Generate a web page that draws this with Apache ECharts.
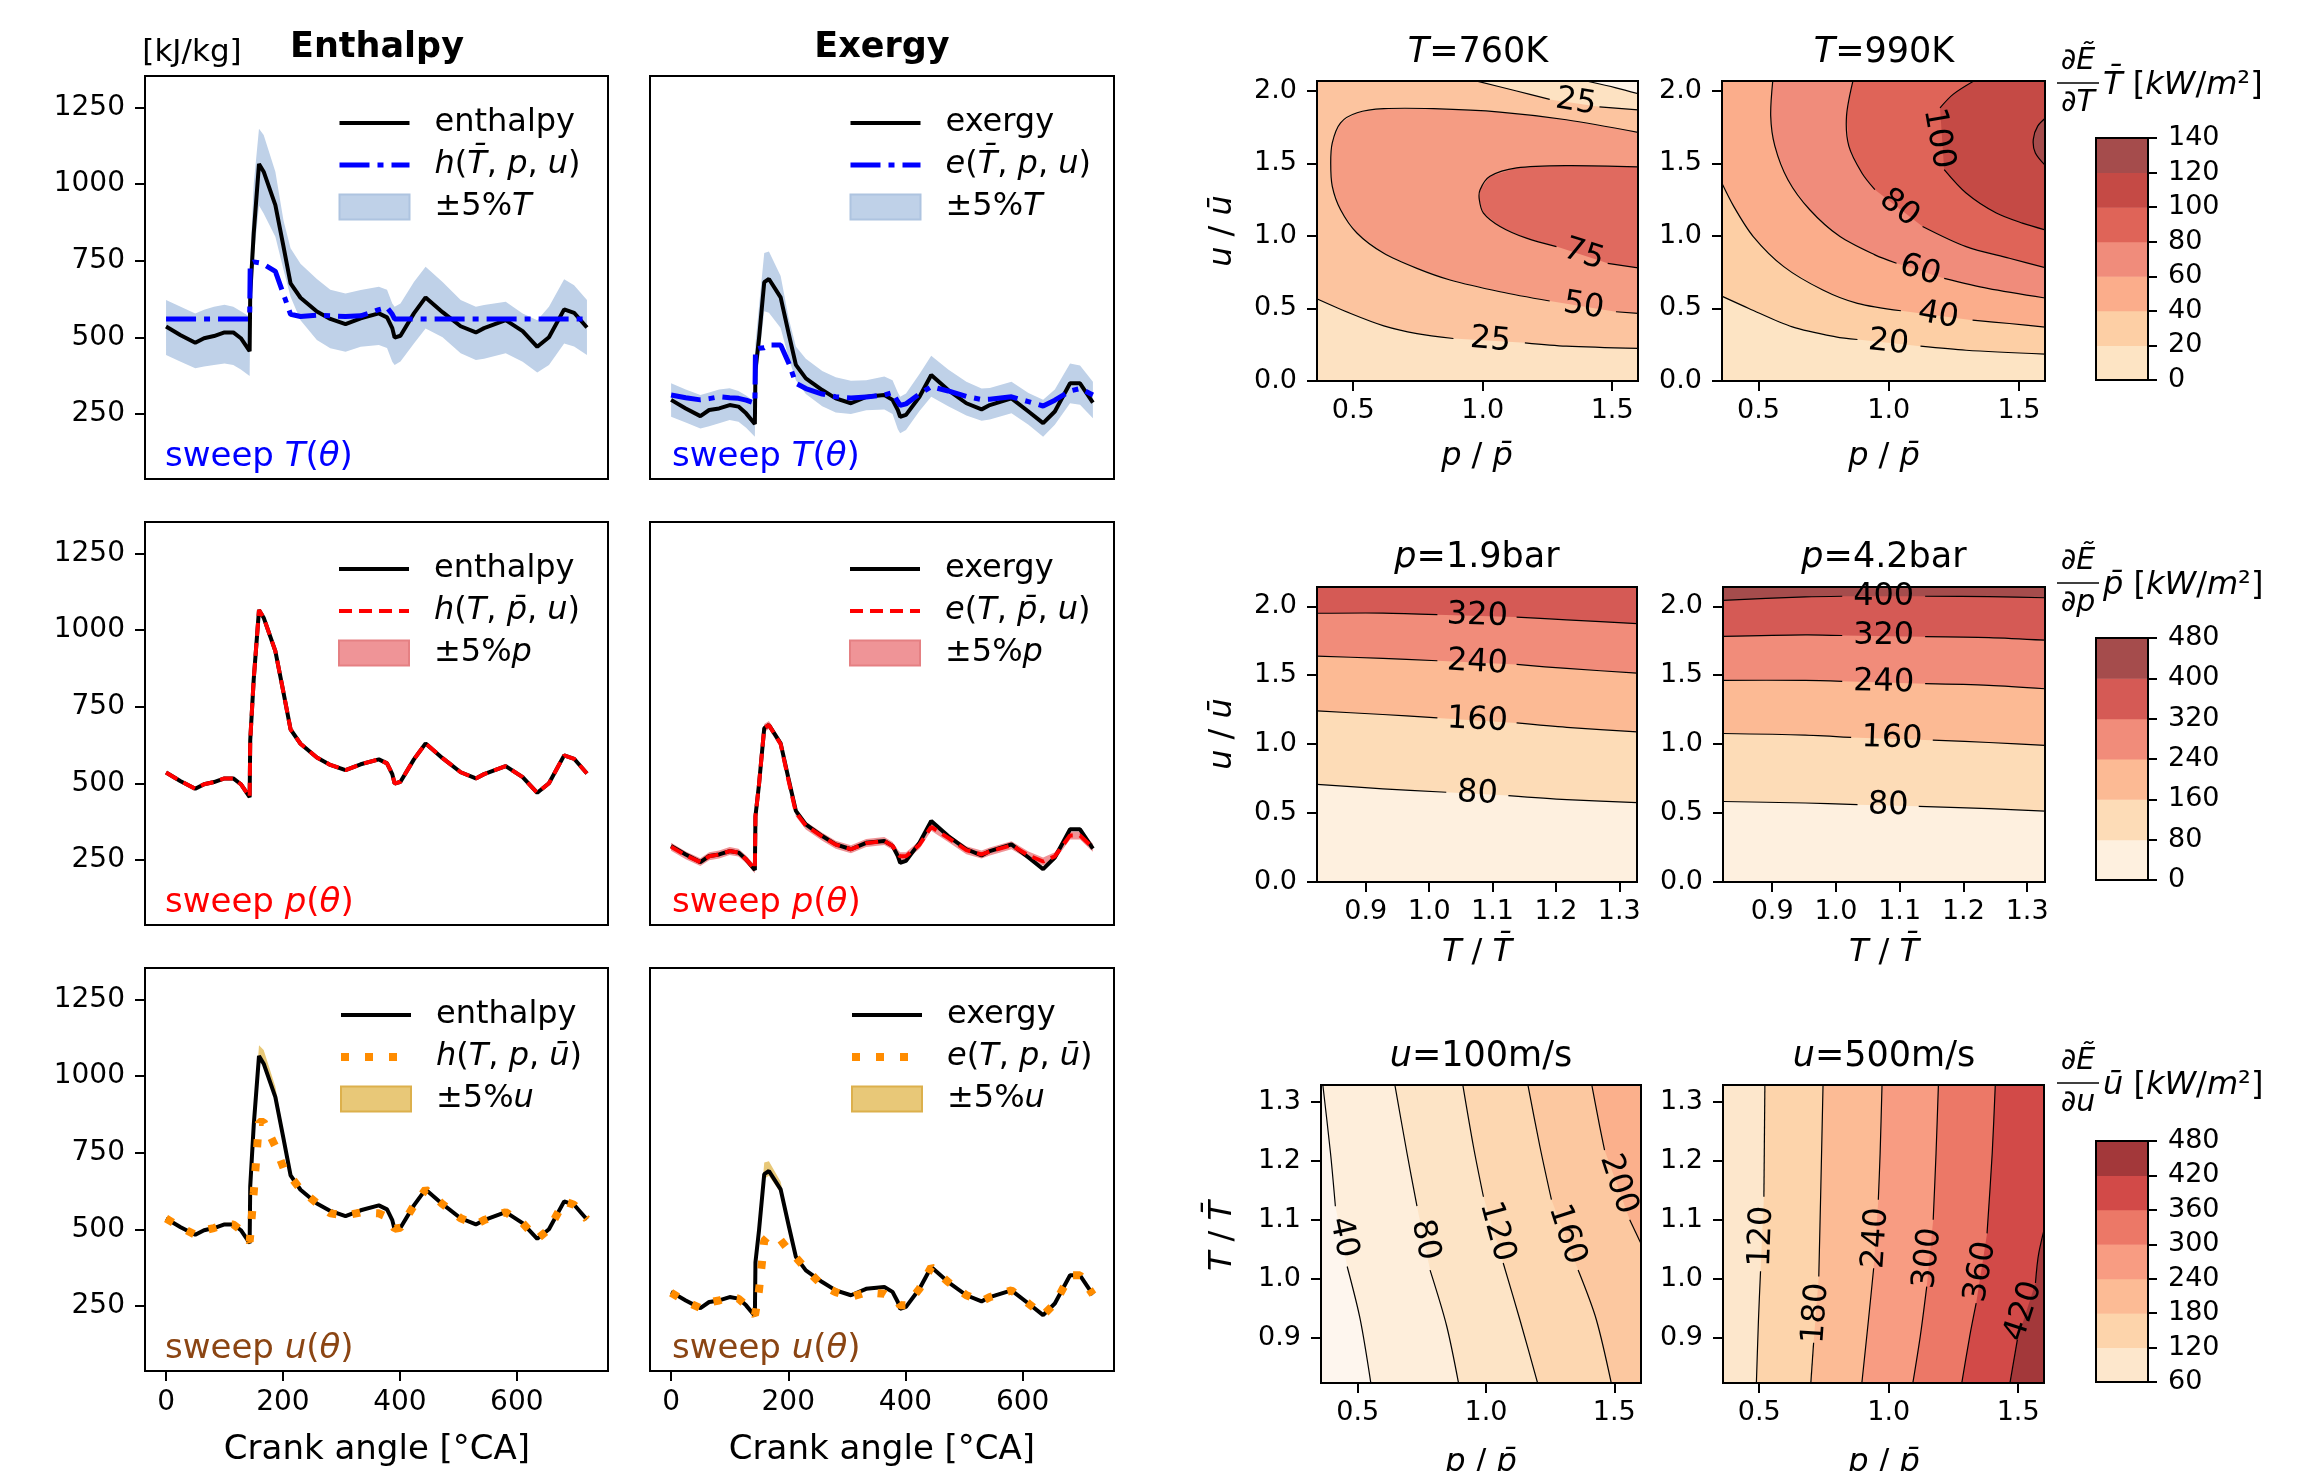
<!DOCTYPE html>
<html>
<head>
<meta charset="utf-8">
<script src="https://cdn.jsdelivr.net/npm/echarts@6/dist/echarts.min.js"></script>
<style>
html, body { margin: 0; background: #fff; }
#main { width: 2318px; height: 1471px; }
</style>
</head>
<body>
<div id="main"></div>
<script>
var FONT = 'DejaVu Sans';

// ---------- crank angle panels ----------
var theta = [0, 25, 50, 65, 82, 100, 115, 128, 143, 144, 150, 159, 167, 187, 201, 213, 230, 258, 281, 307, 333, 364, 378, 387, 391, 401, 424, 444, 473, 504, 530, 544, 581, 610, 635, 655, 681, 698, 720];

var enthalpy = [535, 507, 482, 497, 504, 516, 516, 497, 455, 640, 840, 1065, 1040, 931, 795, 676, 629, 584, 560, 543, 562, 578, 565, 530, 499, 505, 578, 630, 582, 536, 516, 530, 556, 520, 469, 500, 591, 580, 532];
var exergy = [296, 268, 243, 263, 268, 279, 274, 252, 217, 393, 495, 680, 690, 630, 510, 410, 366, 328, 301, 285, 306, 312, 296, 263, 241, 247, 306, 377, 328, 285, 265, 279, 301, 258, 220, 258, 350, 350, 287];

// sweep T
var hT = [560, 560, 560, 560, 560, 560, 560, 560, 560, 740, 746, 743, 738, 715, 640, 575, 568, 572, 570, 568, 570, 590, 597, 575, 560, 560, 560, 560, 560, 560, 560, 560, 560, 560, 560, 560, 560, 560, 560];
var hTup = [622, 600, 578, 590, 600, 606, 600, 585, 567, 750, 1000, 1180, 1160, 1040, 880, 790, 740, 690, 655, 643, 654, 665, 655, 610, 600, 610, 680, 730, 680, 622, 600, 605, 616, 578, 556, 600, 689, 670, 622];
var hTlo = [442, 420, 399, 405, 410, 415, 410, 395, 374, 560, 760, 930, 904, 828, 720, 632, 556, 491, 464, 453, 469, 475, 465, 420, 410, 421, 480, 529, 500, 448, 426, 430, 448, 420, 385, 410, 480, 470, 442];
var eT = [312, 303, 296, 300, 306, 303, 301, 295, 285, 460, 464, 466, 475, 475, 415, 350, 333, 315, 306, 302, 305, 312, 320, 290, 278, 283, 315, 339, 325, 307, 297, 298, 306, 290, 276, 295, 325, 333, 312];
var eTup = [350, 330, 312, 320, 330, 334, 325, 310, 290, 480, 600, 775, 780, 700, 560, 470, 430, 390, 370, 358, 360, 372, 360, 320, 306, 317, 380, 440, 395, 355, 333, 335, 355, 318, 296, 330, 415, 408, 355];
var eTlo = [241, 222, 203, 210, 220, 230, 225, 205, 176, 320, 430, 585, 580, 530, 430, 360, 315, 275, 255, 250, 262, 265, 250, 200, 187, 198, 260, 306, 275, 245, 228, 232, 252, 215, 176, 215, 285, 280, 236];

// sweep p
var hP = [535, 507, 482, 497, 504, 516, 516, 497, 455, 640, 840, 1065, 1040, 931, 795, 676, 629, 584, 560, 543, 562, 578, 565, 530, 499, 505, 578, 630, 582, 536, 516, 530, 556, 520, 469, 500, 591, 580, 532];
var eP = [293, 265, 243, 262, 268, 279, 274, 252, 220, 393, 495, 680, 690, 628, 505, 405, 362, 326, 300, 285, 305, 312, 296, 270, 262, 262, 300, 358, 322, 282, 268, 278, 298, 265, 245, 262, 330, 330, 290];
var ePup = [306, 278, 256, 275, 281, 292, 287, 265, 233, 406, 508, 693, 703, 641, 518, 418, 375, 339, 313, 298, 318, 325, 309, 283, 275, 275, 313, 371, 335, 295, 281, 291, 311, 278, 258, 275, 343, 343, 303];
var ePlo = [280, 252, 230, 249, 255, 266, 261, 239, 207, 380, 482, 667, 677, 615, 492, 392, 349, 313, 287, 272, 292, 299, 283, 257, 249, 249, 287, 345, 309, 269, 255, 265, 285, 252, 232, 249, 317, 317, 277];

// sweep u
var hU = [535, 507, 482, 497, 504, 516, 516, 497, 460, 480, 620, 850, 850, 770, 700, 672, 630, 585, 552, 545, 555, 552, 540, 515, 502, 505, 578, 630, 582, 536, 516, 530, 556, 520, 469, 500, 591, 580, 532];
var hUup = [540, 512, 487, 502, 509, 521, 521, 502, 460, 648, 860, 1100, 1085, 965, 815, 685, 634, 589, 565, 548, 567, 583, 570, 535, 504, 510, 583, 635, 587, 541, 521, 535, 561, 525, 474, 505, 596, 585, 537];
var hUlo = [530, 502, 477, 492, 499, 511, 511, 492, 450, 632, 820, 1058, 1032, 922, 785, 668, 624, 579, 555, 538, 557, 573, 560, 525, 494, 500, 573, 625, 577, 531, 511, 525, 551, 515, 464, 495, 586, 575, 527];
var eU = [293, 265, 243, 262, 268, 279, 274, 252, 220, 228, 300, 463, 480, 465, 431, 408, 371, 317, 295, 279, 295, 290, 274, 263, 252, 252, 306, 377, 328, 285, 265, 279, 301, 258, 220, 258, 350, 350, 287];
var eUup = [301, 273, 248, 268, 273, 284, 279, 257, 222, 400, 515, 718, 722, 655, 525, 418, 371, 333, 306, 290, 311, 317, 301, 268, 246, 252, 311, 382, 333, 290, 270, 284, 306, 263, 225, 263, 355, 355, 292];
var eUlo = [291, 263, 238, 258, 263, 274, 269, 247, 212, 386, 480, 665, 675, 618, 500, 402, 361, 323, 296, 280, 301, 307, 291, 258, 236, 242, 301, 372, 323, 280, 260, 274, 296, 253, 215, 253, 345, 345, 282];

var angleTicks = [0, 200, 400, 600];
var energyTicks = [250, 500, 750, 1000, 1250];

// ---------- contour panels: iso-lines as [x, y] pieces (gap = label) ----------
// T = 760 K   (x: p/p̄, y: u/ū)
var t760_0 = [[[1.40, 2.067], [1.515, 2.02], [1.61, 1.975]]];
var t760_25a = [[[0.35, 0.574], [0.49, 0.465], [0.618, 0.38], [0.746, 0.327], [0.887, 0.293]], [[1.163, 0.263], [1.323, 0.24], [1.61, 0.224]]];
var t760_25b = [[[0.97, 2.07], [1.131, 1.998], [1.259, 1.94]], [[1.451, 1.889], [1.61, 1.866]]];
var t760_50 = [[[1.61, 1.71], [1.323, 1.80], [1.067, 1.853], [0.81, 1.876], [0.618, 1.876], [0.515, 1.848], [0.451, 1.779], [0.419, 1.641], [0.413, 1.502], [0.419, 1.341], [0.451, 1.18], [0.515, 1.018], [0.618, 0.88], [0.746, 0.776], [0.874, 0.696], [1.067, 0.615], [1.259, 0.551]], [[1.515, 0.477], [1.61, 0.465]]];
var t760_75 = [[[1.61, 1.475], [1.323, 1.484], [1.131, 1.468], [1.028, 1.41], [0.99, 1.318], [0.987, 1.249], [1.003, 1.157], [1.067, 1.065], [1.169, 0.984], [1.285, 0.926]], [[1.483, 0.811], [1.61, 0.776]]];
var t760_labels = [[1.03, 0.28, -5, '25'], [1.36, 1.92, -9, '25'], [1.39, 0.515, -9, '50'], [1.39, 0.87, -18, '75']];
var t760_colors = ['#fef4e9', '#fde2c2', '#fcc49f', '#f59c83', '#e06a5f'];

// T = 990 K
var t990_20 = [[[0.35, 0.592], [0.463, 0.5], [0.63, 0.373], [0.797, 0.304], [0.88, 0.286]], [[1.122, 0.24], [1.297, 0.212], [1.61, 0.184]]];
var t990_40 = [[[0.35, 1.399], [0.405, 1.203], [0.48, 0.995], [0.597, 0.788], [0.747, 0.627], [0.88, 0.535], [1.047, 0.484]], [[1.322, 0.419], [1.463, 0.396], [1.61, 0.369]]];
var t990_60 = [[[0.555, 2.07], [0.547, 1.825], [0.563, 1.618], [0.613, 1.387], [0.697, 1.18], [0.813, 0.995], [0.947, 0.869], [1.03, 0.811]], [[1.213, 0.707], [1.38, 0.638], [1.61, 0.569]]];
var t990_80 = [[[0.863, 2.07], [0.838, 1.825], [0.847, 1.618], [0.897, 1.433], [0.947, 1.318]], [[1.13, 1.065], [1.297, 0.926], [1.463, 0.846], [1.61, 0.776]]];
var t990_100 = [[[1.33, 2.07], [1.247, 1.975], [1.197, 1.882]], [[1.213, 1.456], [1.297, 1.295], [1.413, 1.157], [1.513, 1.088], [1.61, 1.037]]];
var t990_120 = [[[1.61, 1.825], [1.572, 1.756], [1.555, 1.664], [1.563, 1.571], [1.61, 1.468]]];
var t990_labels = [[1.0, 0.262, -6, '20'], [1.19, 0.45, -10, '40'], [1.12, 0.76, -18, '60'], [1.04, 1.19, -38, '80'], [1.19, 1.67, -80, '100']];
var t990_colors = ['#fde4c4', '#fdcfa5', '#fbad8b', '#f08c7b', '#df6458', '#c54a45', '#a54c4c'];
var tLevels = [0, 20, 40, 60, 80, 100, 120, 140];

// p = 1.9 bar  (x: T/T̄, y: u/ū)
var p19_80 = [[[0.81, 0.712], [0.927, 0.676], [1.027, 0.651]], [[1.125, 0.627], [1.217, 0.598], [1.34, 0.573]]];
var p19_160 = [[[0.81, 1.244], [0.927, 1.215], [1.013, 1.19]], [[1.138, 1.154], [1.217, 1.122], [1.34, 1.085]]];
var p19_240 = [[[0.81, 1.641], [0.927, 1.622], [1.013, 1.605]], [[1.138, 1.578], [1.217, 1.549], [1.34, 1.512]]];
var p19_320 = [[[0.81, 1.949], [0.927, 1.951], [1.013, 1.939]], [[1.138, 1.922], [1.217, 1.902], [1.34, 1.871]]];
var p19_labels = [[1.076, 0.64, -3, '80'], [1.076, 1.172, -3, '160'], [1.076, 1.59, -3, '240'], [1.076, 1.93, -2, '320']];
var p19_colors = ['#fef0df', '#fddcb7', '#fcba94', '#f18c7a', '#d55a55'];

// p = 4.2 bar
var p42_80 = [[[0.81, 0.585], [0.952, 0.573], [1.034, 0.561]], [[1.13, 0.549], [1.24, 0.532], [1.34, 0.512]]];
var p42_160 = [[[0.81, 1.078], [0.952, 1.066], [1.024, 1.049]], [[1.152, 1.029], [1.24, 1.012], [1.34, 0.988]]];
var p42_240 = [[[0.81, 1.463], [0.952, 1.463], [1.01, 1.456]], [[1.14, 1.439], [1.24, 1.427], [1.34, 1.398]]];
var p42_320 = [[[0.81, 1.78], [0.952, 1.793], [1.01, 1.788]], [[1.14, 1.78], [1.24, 1.773], [1.34, 1.751]]];
var p42_400 = [[[0.81, 2.041], [0.952, 2.068], [1.01, 2.073]], [[1.14, 2.073], [1.24, 2.07], [1.34, 2.061]]];
var p42_labels = [[1.082, 0.556, -1, '80'], [1.088, 1.04, -2, '160'], [1.075, 1.448, -1, '240'], [1.075, 1.785, 0, '320'], [1.075, 2.072, 0, '400']];
var p42_colors = ['#fef0df', '#fddcb7', '#fcba94', '#f18c7a', '#d55a55', '#a54c4c'];
var pLevels = [0, 80, 160, 240, 320, 400, 480];

// u = 100 m/s  (x: p/p̄, y: T/T̄)
var u100_40 = [[[0.361, 1.34], [0.394, 1.213], [0.413, 1.123]], [[0.459, 1.021], [0.51, 0.931], [0.556, 0.81]]];
var u100_80 = [[[0.64, 1.34], [0.692, 1.213], [0.731, 1.123]], [[0.782, 1.015], [0.847, 0.92], [0.899, 0.81]]];
var u100_120 = [[[0.905, 1.34], [0.951, 1.224], [0.99, 1.139]], [[1.067, 1.027], [1.132, 0.931], [1.21, 0.81]]];
var u100_160 = [[[1.158, 1.34], [1.21, 1.224], [1.255, 1.134]], [[1.359, 1.015], [1.43, 0.931], [1.495, 0.81]]];
var u100_200 = [[[1.407, 1.34], [1.443, 1.258], [1.462, 1.218]], [[1.56, 1.1], [1.62, 1.045]]];
var u100_labels = [[0.443, 1.07, -78, '40'], [0.762, 1.066, -78, '80'], [1.042, 1.08, -75, '120'], [1.315, 1.075, -72, '160'], [1.515, 1.16, -72, '200']];
var u100_colors = ['#fef6ee', '#feeedb', '#fde4c6', '#fdd7b1', '#fcc8a0', '#fbb08c'];

// u = 500 m/s
var u500_120 = [[[0.522, 1.34], [0.518, 1.139]], [[0.505, 1.013], [0.497, 0.931], [0.488, 0.81]]];
var u500_180 = [[[0.747, 1.34], [0.738, 1.156], [0.73, 1.004]], [[0.71, 0.892], [0.697, 0.81]]];
var u500_240 = [[[0.975, 1.34], [0.967, 1.213], [0.96, 1.134]], [[0.942, 1.018], [0.922, 0.931], [0.893, 0.81]]];
var u500_300 = [[[1.193, 1.34], [1.183, 1.213], [1.172, 1.1]], [[1.147, 0.987], [1.122, 0.903], [1.088, 0.81]]];
var u500_360 = [[[1.413, 1.34], [1.4, 1.213], [1.38, 1.077]], [[1.338, 0.959], [1.313, 0.903], [1.277, 0.81]]];
var u500_420 = [[[1.62, 1.117], [1.58, 1.044], [1.567, 0.993]], [[1.497, 0.897], [1.463, 0.81]]];
var u500_labels = [[0.51, 1.072, 88, '120'], [0.72, 0.942, 86, '180'], [0.951, 1.069, 86, '240'], [1.152, 1.035, 84, '300'], [1.356, 1.012, 80, '360'], [1.522, 0.945, 72, '420']];
var u500_colors = ['#fde7cc', '#fdd4ab', '#fcbb95', '#f89c82', '#ec7867', '#d24a48', '#a3383a'];
var uLevels = [60, 120, 180, 240, 300, 360, 420, 480];

// ---------- helpers ----------
function flat(pieces) {
  return pieces.reduce(function (a, p) { return a.concat(p); }, []);
}
function rev(pieces) { return flat(pieces).slice().reverse(); }
// region above a left-to-right iso-line
function above(pieces) {
  var pts = flat(pieces), f = pts[0], l = pts[pts.length - 1];
  return pts.concat([[5, l[1]], [5, 9], [-5, 9], [-5, f[1]]]);
}
// region above/right of a line that starts at the top edge
function aboveFromTop(pieces) {
  var pts = flat(pieces), f = pts[0], l = pts[pts.length - 1];
  return pts.concat([[5, l[1]], [5, 9], [f[0], 9]]);
}
// region right of a top-to-bottom iso-line
function rightOf(pieces) {
  var pts = flat(pieces), f = pts[0], l = pts[pts.length - 1];
  return pts.concat([[l[0], -5], [5, -5], [5, 9], [f[0], 9]]);
}
var fullRect = [[-5, -5], [5, -5], [5, 9], [-5, 9]];

var grids = [], xAxes = [], yAxes = [], series = [], legends = [], graphics = [];

function tickAxis(show, values, fmt, margin) {
  return {
    axisLine: { show: false, onZero: false },
    splitLine: { show: false },
    axisTick: { show: show, customValues: values, length: 10, inside: false, lineStyle: { color: '#000', width: 2 } },
    axisLabel: { show: show, customValues: values, formatter: fmt, margin: margin, color: '#000', fontFamily: FONT, fontSize: 28 }
  };
}

function frameSeries(gi, xr, yr) {
  return {
    type: 'custom', xAxisIndex: gi, yAxisIndex: gi, z: 20, silent: true, clip: false,
    data: [[xr[0], yr[0]]],
    renderItem: function (params, api) {
      var a = api.coord([xr[0], yr[1]]), b = api.coord([xr[1], yr[0]]);
      return { type: 'rect', shape: { x: a[0], y: a[1], width: b[0] - a[0], height: b[1] - a[1] },
        style: { fill: 'transparent', stroke: '#000', lineWidth: 2 } };
    }
  };
}

// ---------- crank angle grids ----------
var colLeft = [145, 650], colWidth = [463, 464], rowTop = [76, 522, 968], rowH = 403;
var xr = [-36, 756], yr = [38, 1352];

var modelStyle = {
  dashdot: { color: '#0000ff', width: 5, type: [30, 8, 6, 8], cap: 'butt' },
  dashed: { color: '#ff0000', width: 4, type: [13, 7], cap: 'butt' },
  dotted: { color: '#ff8c00', width: 8, type: [8, 16], cap: 'butt' }
};

var linePanels = [
  { r: 0, c: 0, ref: 'enthalpy', refY: enthalpy, mod: 'h(T̄,p,u)', modY: hT, st: 'dashdot', band: '±5%T', up: hTup, lo: hTlo, fill: '#bfd1e8', edge: '#aec4e0' },
  { r: 0, c: 1, ref: 'exergy', refY: exergy, mod: 'e(T̄,p,u)', modY: eT, st: 'dashdot', band: '±5%T', up: eTup, lo: eTlo, fill: '#bfd1e8', edge: '#aec4e0' },
  { r: 1, c: 0, ref: 'enthalpy', refY: enthalpy, mod: 'h(T,p̄,u)', modY: hP, st: 'dashed', band: '±5%p', up: hP, lo: hP, fill: '#ef9497', edge: '#e58083' },
  { r: 1, c: 1, ref: 'exergy', refY: exergy, mod: 'e(T,p̄,u)', modY: eP, st: 'dashed', band: '±5%p', up: ePup, lo: ePlo, fill: '#ef9497', edge: '#e58083' },
  { r: 2, c: 0, ref: 'enthalpy', refY: enthalpy, mod: 'h(T,p,ū)', modY: hU, st: 'dotted', band: '±5%u', up: hUup, lo: hUlo, fill: '#e8c878', edge: '#dcb04c' },
  { r: 2, c: 1, ref: 'exergy', refY: exergy, mod: 'e(T,p,ū)', modY: eU, st: 'dotted', band: '±5%u', up: eUup, lo: eUlo, fill: '#e8c878', edge: '#dcb04c' }
];

var legendText = {
  'enthalpy': 'enthalpy', 'exergy': 'exergy',
  'h(T̄,p,u)': '{i|h}({i|T̄}, {i|p}, {i|u})', 'e(T̄,p,u)': '{i|e}({i|T̄}, {i|p}, {i|u})',
  'h(T,p̄,u)': '{i|h}({i|T}, {i|p̄}, {i|u})', 'e(T,p̄,u)': '{i|e}({i|T}, {i|p̄}, {i|u})',
  'h(T,p,ū)': '{i|h}({i|T}, {i|p}, {i|ū})', 'e(T,p,ū)': '{i|e}({i|T}, {i|p}, {i|ū})',
  '±5%T': '±5%{i|T}', '±5%p': '±5%{i|p}', '±5%u': '±5%{i|u}'
};

function pairs(y) { return theta.map(function (t, i) { return [t, y[i]]; }); }
function plain(v) { return String(v); }

linePanels.forEach(function (p) {
  var gi = grids.length;
  grids.push({ left: colLeft[p.c], top: rowTop[p.r], width: colWidth[p.c], height: rowH, show: false });
  var xa = tickAxis(p.r === 2, angleTicks, plain, 18);
  xAxes.push(Object.assign({ gridIndex: gi, type: 'value', min: xr[0], max: xr[1] }, xa));
  var ya = tickAxis(p.c === 0, energyTicks, plain, 20);
  yAxes.push(Object.assign({ gridIndex: gi, type: 'value', min: yr[0], max: yr[1] }, ya));

  var up = p.up, lo = p.lo;
  series.push({
    type: 'custom', name: p.band, xAxisIndex: gi, yAxisIndex: gi, clip: true, z: 1,
    itemStyle: { color: p.fill },
    data: theta.map(function (t, i) { return [t, lo[i], up[i]]; }),
    encode: { x: 0, y: [1, 2] },
    renderItem: function (params, api) {
      if (params.dataIndex !== 0) return null;
      var pts = [];
      for (var i = 0; i < theta.length; i++) pts.push(api.coord([theta[i], up[i]]));
      for (var j = theta.length - 1; j >= 0; j--) pts.push(api.coord([theta[j], lo[j]]));
      return { type: 'polygon', shape: { points: pts }, style: { fill: p.fill } };
    }
  });
  series.push({
    type: 'line', name: p.ref, xAxisIndex: gi, yAxisIndex: gi, z: 3,
    data: pairs(p.refY), symbol: 'none', showSymbol: false,
    lineStyle: { color: '#000', width: 4 }, itemStyle: { color: '#000' }
  });
  var ms = modelStyle[p.st];
  series.push({
    type: 'line', name: p.mod, xAxisIndex: gi, yAxisIndex: gi, z: 4,
    data: pairs(p.modY), symbol: 'none', showSymbol: false,
    lineStyle: ms, itemStyle: { color: ms.color }
  });
  series.push(frameSeries(gi, xr, yr));

  legends.push({
    left: colLeft[p.c] + (p.c === 0 ? 192 : 198), top: rowTop[p.r] + 31,
    padding: 0,
    orient: 'vertical', itemWidth: 70, itemHeight: 25, itemGap: 10,
    selectedMode: false,
    data: [
      { name: p.ref, itemStyle: { opacity: 0 } },
      { name: p.mod, itemStyle: { opacity: 0 } },
      { name: p.band, icon: 'rect', itemStyle: { color: p.fill, borderColor: p.edge, borderWidth: 2 } }
    ],
    lineStyle: { width: 'inherit', type: 'inherit', cap: 'butt' },
    formatter: function (n) { return legendText[n] || n; },
    textStyle: { fontFamily: FONT, fontSize: 32, lineHeight: 26, color: '#000', padding: [0, 0, 0, 20],
      rich: { i: { fontStyle: 'italic', fontFamily: FONT, fontSize: 32, lineHeight: 26 } } }
  });
});

// ---------- contour grids ----------
function contourPanel(cfg) {
  var gi = grids.length;
  grids.push({ left: cfg.box[0], top: cfg.box[1], width: cfg.box[2], height: cfg.box[3], show: false });
  var fmt = function (v) { return v.toFixed(1); };
  var xa = tickAxis(true, cfg.xt, fmt, 16);
  xa.axisLabel.fontSize = 27;
  xAxes.push(Object.assign({ gridIndex: gi, type: 'value', min: cfg.xr[0], max: cfg.xr[1] }, xa));
  var ya = tickAxis(true, cfg.yt, fmt, 20);
  ya.axisLabel.fontSize = 27;
  yAxes.push(Object.assign({ gridIndex: gi, type: 'value', min: cfg.yr[0], max: cfg.yr[1] }, ya));

  var fills = cfg.fills, lines = [];
  cfg.lines.forEach(function (l) { l.forEach(function (piece) { lines.push(piece); }); });
  series.push({
    type: 'custom', xAxisIndex: gi, yAxisIndex: gi, clip: true, z: 2, silent: true,
    data: fills.map(function () { return [cfg.xr[0], cfg.yr[0]]; }),
    renderItem: function (params, api) {
      var f = fills[params.dataIndex];
      return { type: 'polygon', shape: { points: f[1].map(function (pt) { return api.coord(pt); }) },
        style: { fill: cfg.colors[f[0]] } };
    }
  });
  series.push({
    type: 'custom', xAxisIndex: gi, yAxisIndex: gi, clip: true, z: 3, silent: true,
    data: lines.map(function () { return [cfg.xr[0], cfg.yr[0]]; }),
    renderItem: function (params, api) {
      var pts = lines[params.dataIndex].map(function (pt) { return api.coord(pt); });
      return { type: 'polyline', shape: { points: pts, smooth: 0.3 }, style: { stroke: '#000', lineWidth: 1.2, fill: null } };
    }
  });
  series.push({
    type: 'custom', xAxisIndex: gi, yAxisIndex: gi, clip: false, z: 4, silent: true,
    data: cfg.labels.map(function (l) { return [l[0], l[1]]; }),
    renderItem: function (params, api) {
      var l = cfg.labels[params.dataIndex];
      var c = api.coord([l[0], l[1]]);
      return { type: 'text', x: c[0], y: c[1], rotation: l[2] * Math.PI / 180,
        style: { text: l[3], fontSize: 32, fontFamily: FONT, fill: '#000', align: 'center', verticalAlign: 'middle' } };
    }
  });
  series.push(frameSeries(gi, cfg.xr, cfg.yr));
}

var pu = [0.36, 1.6];
contourPanel({ box: [1317, 81, 321, 300], xr: pu, yr: [0, 2.067], xt: [0.5, 1.0, 1.5], yt: [0, 0.5, 1.0, 1.5, 2.0],
  colors: t760_colors, lines: [t760_0, t760_25a, t760_25b, t760_50, t760_75], labels: t760_labels,
  fills: [[1, fullRect],
    [2, flat(t760_25a).concat([[5, 0.224], [5, 1.866]], rev(t760_25b), [[0.97, 9], [-5, 9], [-5, 0.574]])],
    [3, flat(t760_50).concat([[5, 0.465], [5, 1.71]])],
    [4, flat(t760_75).concat([[5, 0.776], [5, 1.475]])],
    [0, flat(t760_0).concat([[5, 1.975], [5, 9], [1.40, 9]])]] });
contourPanel({ box: [1722, 81, 323, 300], xr: pu, yr: [0, 2.067], xt: [0.5, 1.0, 1.5], yt: [0, 0.5, 1.0, 1.5, 2.0],
  colors: t990_colors, lines: [t990_20, t990_40, t990_60, t990_80, t990_100, t990_120], labels: t990_labels,
  fills: [[0, fullRect], [1, above(t990_20)], [2, above(t990_40)], [3, aboveFromTop(t990_60)],
    [4, aboveFromTop(t990_80)], [5, aboveFromTop(t990_100)], [6, flat(t990_120).concat([[5, 1.468], [5, 1.825]])]] });
var pt = [0.823, 1.328];
contourPanel({ box: [1317, 587, 320, 295], xr: pt, yr: [0, 2.14], xt: [0.9, 1.0, 1.1, 1.2, 1.3], yt: [0, 0.5, 1.0, 1.5, 2.0],
  colors: p19_colors, lines: [p19_80, p19_160, p19_240, p19_320], labels: p19_labels,
  fills: [[0, fullRect], [1, above(p19_80)], [2, above(p19_160)], [3, above(p19_240)], [4, above(p19_320)]] });
contourPanel({ box: [1723, 587, 322, 295], xr: pt, yr: [0, 2.14], xt: [0.9, 1.0, 1.1, 1.2, 1.3], yt: [0, 0.5, 1.0, 1.5, 2.0],
  colors: p42_colors, lines: [p42_80, p42_160, p42_240, p42_320, p42_400], labels: p42_labels,
  fills: [[0, fullRect], [1, above(p42_80)], [2, above(p42_160)], [3, above(p42_240)], [4, above(p42_320)], [5, above(p42_400)]] });
var uy = [0.824, 1.328];
contourPanel({ box: [1321, 1085, 320, 298], xr: [0.357, 1.604], yr: uy, xt: [0.5, 1.0, 1.5], yt: [0.9, 1.0, 1.1, 1.2, 1.3],
  colors: u100_colors, lines: [u100_40, u100_80, u100_120, u100_160, u100_200], labels: u100_labels,
  fills: [[0, fullRect], [1, rightOf(u100_40)], [2, rightOf(u100_80)], [3, rightOf(u100_120)], [4, rightOf(u100_160)],
    [5, flat(u100_200).concat([[5, 1.045], [5, 9], [1.407, 9]])]] });
contourPanel({ box: [1723, 1085, 321, 298], xr: pu, yr: uy, xt: [0.5, 1.0, 1.5], yt: [0.9, 1.0, 1.1, 1.2, 1.3],
  colors: u500_colors, lines: [u500_120, u500_180, u500_240, u500_300, u500_360, u500_420], labels: u500_labels,
  fills: [[0, fullRect], [1, rightOf(u500_120)], [2, rightOf(u500_180)], [3, rightOf(u500_240)], [4, rightOf(u500_300)],
    [5, rightOf(u500_360)], [6, flat(u500_420).concat([[1.463, -5], [5, -5], [5, 1.117]])]] });

// ---------- colour bars ----------
function colorBar(top, height, levels, colors) {
  var gi = grids.length;
  grids.push({ left: 2096, top: top, width: 52, height: height, show: false });
  xAxes.push({ gridIndex: gi, type: 'value', min: 0, max: 1, show: false });
  yAxes.push({ gridIndex: gi, type: 'value', position: 'right', min: levels[0], max: levels[levels.length - 1],
    interval: levels[1] - levels[0],
    axisLine: { show: false, onZero: false }, splitLine: { show: false },
    axisTick: { show: true, length: 9, lineStyle: { color: '#000', width: 2 } },
    axisLabel: { margin: 20, color: '#000', fontFamily: FONT, fontSize: 27, formatter: plain } });
  series.push({
    type: 'custom', xAxisIndex: gi, yAxisIndex: gi, clip: true, z: 2, silent: true,
    data: colors.map(function (c, i) { return [0, levels[i], levels[i + 1]]; }),
    renderItem: function (params, api) {
      var a = api.coord([0, api.value(2)]), b = api.coord([1, api.value(1)]);
      return { type: 'rect', shape: { x: a[0], y: a[1], width: b[0] - a[0], height: b[1] - a[1] + 0.5 },
        style: { fill: colors[params.dataIndex] } };
    }
  });
  series.push(frameSeries(gi, [0, 1], [levels[0], levels[levels.length - 1]]));
}
colorBar(138, 242, tLevels, t990_colors);
colorBar(638, 242, pLevels, p42_colors);
colorBar(1141, 241, uLevels, u500_colors);

// ---------- texts ----------
function txt(x, y, text, size, opts) {
  var st = Object.assign({ text: text, x: x, y: y, fontSize: size, fontFamily: FONT, fill: '#000',
    align: 'center', verticalAlign: 'middle',
    rich: { i: { fontStyle: 'italic', fontSize: size, fontFamily: FONT } } }, opts || {});
  if (st.color) { st.fill = st.color; st.rich.i.fill = st.color; delete st.color; }
  return { type: 'text', silent: true, z: 50, style: st };
}
graphics.push(txt(192, 53, '[kJ/kg]', 31));
graphics.push(txt(377, 48, 'Enthalpy', 35, { fontWeight: 'bold' }));
graphics.push(txt(882, 48, 'Exergy', 35, { fontWeight: 'bold' }));
var sweeps = [['sweep {i|T}({i|θ})', '#0000ff'], ['sweep {i|p}({i|θ})', '#ff0000'], ['sweep {i|u}({i|θ})', '#8b4513']];
sweeps.forEach(function (s, r) {
  graphics.push(txt(165, rowTop[r] + 381, s[0], 34, { align: 'left', color: s[1] }));
  graphics.push(txt(672, rowTop[r] + 381, s[0], 34, { align: 'left', color: s[1] }));
});
graphics.push(txt(377, 1450, 'Crank angle [°CA]', 34));
graphics.push(txt(882, 1450, 'Crank angle [°CA]', 34));

graphics.push(txt(1478, 53, '{i|T}=760K', 35));
graphics.push(txt(1884, 53, '{i|T}=990K', 35));
graphics.push(txt(1477, 558, '{i|p}=1.9bar', 35));
graphics.push(txt(1884, 558, '{i|p}=4.2bar', 35));
graphics.push(txt(1481, 1057, '{i|u}=100m/s', 35));
graphics.push(txt(1884, 1057, '{i|u}=500m/s', 35));

graphics.push(txt(1477, 457, '{i|p} / {i|p̄}', 32));
graphics.push(txt(1884, 457, '{i|p} / {i|p̄}', 32));
graphics.push(txt(1477, 953, '{i|T} / {i|T̄}', 32));
graphics.push(txt(1884, 953, '{i|T} / {i|T̄}', 32));
graphics.push(txt(1481, 1463, '{i|p} / {i|p̄}', 32));
graphics.push(txt(1884, 1463, '{i|p} / {i|p̄}', 32));

function yName(x, y, text) {
  var t = txt(0, 0, text, 32);
  t.x = x; t.y = y; t.rotation = Math.PI / 2;
  return t;
}
graphics.push(yName(1223, 231, '{i|u} / {i|ū}'));
graphics.push(yName(1223, 734, '{i|u} / {i|ū}'));
graphics.push(yName(1223, 1236, '{i|T} / {i|T̄}'));

var cbTitles = [[20, '∂T', '{i|T̄} [{i|kW}/{i|m}²]'], [520, '∂p', '{i|p̄} [{i|kW}/{i|m}²]'], [1020, '∂u', '{i|ū} [{i|kW}/{i|m}²]']];
cbTitles.forEach(function (c) {
  var b = c[0];
  graphics.push(txt(2078, b + 41, '{i|∂Ẽ}', 30));
  graphics.push({ type: 'line', silent: true, z: 50, shape: { x1: 2057, y1: b + 63, x2: 2099, y2: b + 63 }, style: { stroke: '#000', lineWidth: 1.5 } });
  graphics.push(txt(2078, b + 83, '{i|' + c[1] + '}', 30));
  graphics.push(txt(2103, b + 66, c[2], 32, { align: 'left' }));
});

var chart = echarts.init(document.getElementById('main'));
chart.setOption({
  animation: false,
  backgroundColor: '#fff',
  grid: grids,
  xAxis: xAxes,
  yAxis: yAxes,
  legend: legends,
  series: series,
  graphic: graphics
});
</script>
</body>
</html>
